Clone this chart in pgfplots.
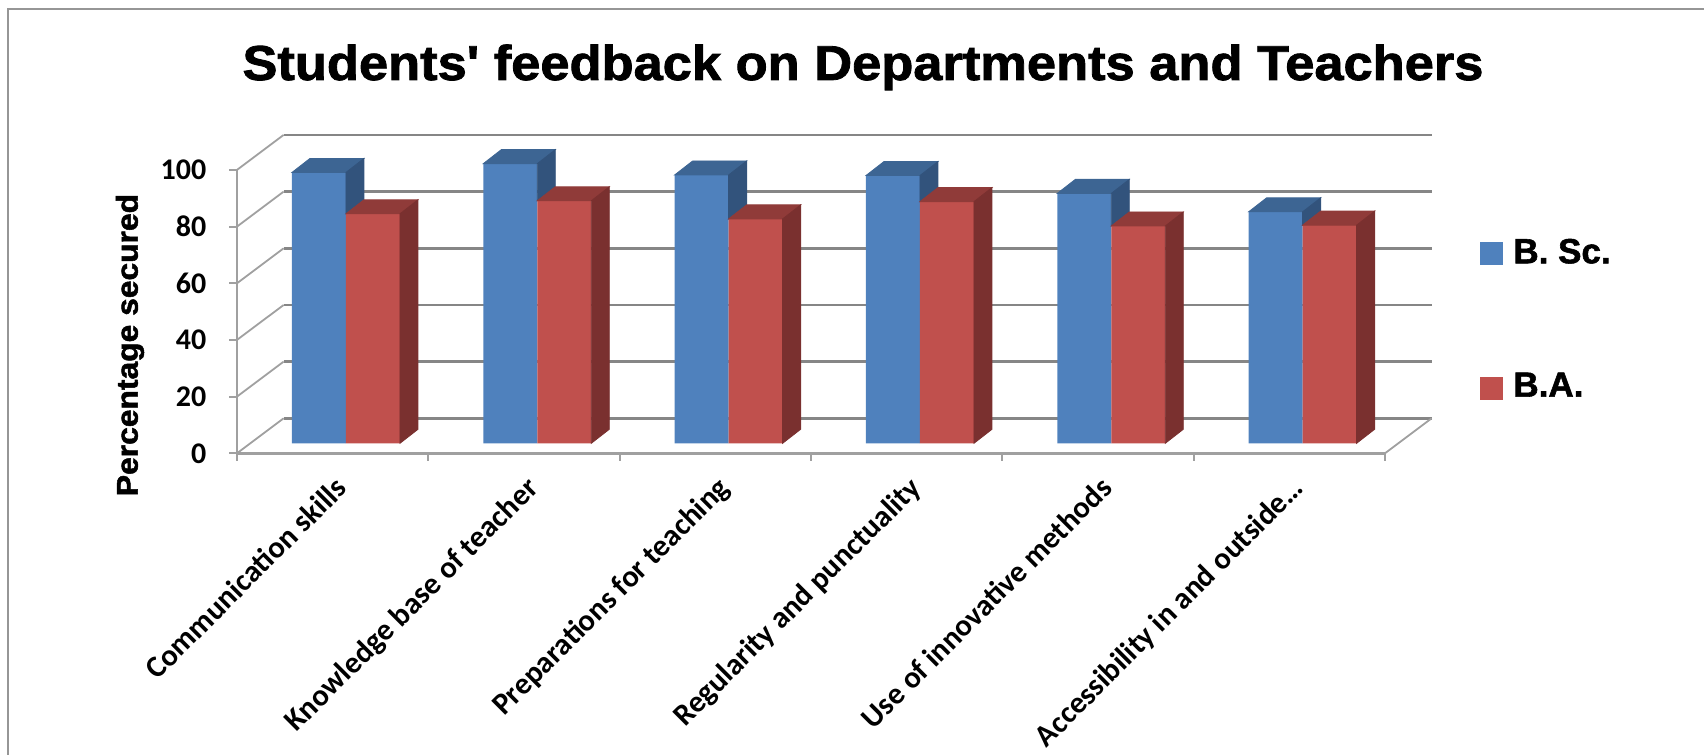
\documentclass[border=0pt]{standalone}
\usepackage{pgfplots}
\pgfplotsset{compat=1.18}
\usepackage{pgfplotstable}
\usepackage{graphicx}
\usepackage{fontspec}
\setmainfont{Carlito}
\newfontfamily\arialf{Liberation Sans Bold}[FakeBold=1.6]

\definecolor{bscfront}{RGB}{79,129,189}
\definecolor{bsctop}{RGB}{61,101,147}
\definecolor{bscside}{RGB}{50,83,124}
\definecolor{bafront}{RGB}{192,80,77}
\definecolor{batop}{RGB}{144,59,57}
\definecolor{baside}{RGB}{122,48,47}
\definecolor{gridc}{RGB}{134,134,134}
\definecolor{wallc}{RGB}{160,160,160}
\definecolor{framec}{RGB}{150,150,150}

\pgfdeclareplotmark{nothing}{}

\pgfplotstableread{
x bsc ba
0 95.6 81.0
1 98.7 85.6
2 94.7 79.2
3 94.5 85.3
4 88.2 76.7
5 81.7 77.0
}\feedback

\begin{document}
\begin{tikzpicture}
\useasboundingbox (0,0) rectangle (852pt,377.5pt);
\draw[framec, line width=1pt] (4pt,-20pt) -- (4pt,373pt) -- (880pt,373pt);
\node[anchor=base, font=\arialf\fontsize{24.5}{29}\selectfont] at (431.5pt,337.5pt) {\scalebox{1.07}[1]{Students' feedback on Departments and Teachers}};
\node[rotate=90, font=\arialf\fontsize{15}{18}\selectfont] at (65pt,205pt) {\scalebox{1.06}[1]{Percentage secured}};
% legend
\fill[bscfront] (740pt,245pt) rectangle (751.5pt,256.5pt);
\node[anchor=base west, inner sep=0pt, font=\arialf\fontsize{17.5}{21}\selectfont] at (756.5pt,245.85pt) {B. Sc.};
\fill[bafront] (740pt,177.65pt) rectangle (751.5pt,189.15pt);
\node[anchor=base west, inner sep=0pt, font=\arialf\fontsize{17.5}{21}\selectfont] at (756.5pt,179.15pt) {B.A.};
\begin{axis}[
  at={(125.15pt,155.85pt)}, anchor=south west,
  scale only axis, width=574pt, height=141.67pt,
  xmin=-0.5, xmax=5.5, ymin=0, ymax=100,
  clip=false,
  axis line style={draw=none},
  major tick length=0pt,
  ytick={0,20,...,100},
  xtick={0,...,5},
  xticklabels={Communication skills, Knowledge base of teacher, Preparations for teaching, Regularity and punctuality, Use of innovative methods, Accessibility in and outside…},
  /pgf/number format/assume math mode=true,
  yticklabel style={font=\bfseries\fontsize{15}{18}\selectfont, inner sep=0pt, anchor=east, xshift=-21.8pt, yshift=-5pt},
  xticklabel style={font=\bfseries\fontsize{15.3}{18}\selectfont, inner sep=0pt, xshift=-6.4pt, yshift=-15.5pt, rotate=45, anchor=north east},
]
% back wall, left wall, floor
\pgfplotsinvokeforeach{0,20,40,60,80,100}{
  \draw[gridc, line width=1.4pt] ([xshift=16.67pt,yshift=12.5pt]axis cs:-0.5,#1) -- ([xshift=16.67pt,yshift=12.5pt]axis cs:5.5,#1);
  \draw[wallc, line width=0.9pt] ([xshift=-6.67pt,yshift=-5pt]axis cs:-0.5,#1) -- ([xshift=16.67pt,yshift=12.5pt]axis cs:-0.5,#1);
  \draw[wallc, line width=0.9pt] ([xshift=-6.67pt,yshift=-5pt]axis cs:-0.5,#1) -- ++(-4pt,0pt);
}
\draw[wallc, line width=1pt] ([xshift=-6.67pt,yshift=-5pt]axis cs:-0.5,0) -- ([xshift=-6.67pt,yshift=-5pt]axis cs:-0.5,100);
\draw[wallc, line width=1.6pt] ([xshift=-6.67pt,yshift=-5pt]axis cs:-0.5,0) -- ([xshift=-6.67pt,yshift=-5pt]axis cs:5.5,0);
\draw[wallc, line width=0.9pt] ([xshift=-6.67pt,yshift=-5pt]axis cs:5.5,0) -- ([xshift=16.67pt,yshift=12.5pt]axis cs:5.5,0);
\pgfplotsinvokeforeach{-0.5,0.5,1.5,2.5,3.5,4.5,5.5}{
  \draw[wallc, line width=0.9pt] ([xshift=-6.67pt,yshift=-5pt]axis cs:#1,0) -- ++(0pt,-4pt);
}

% B.Sc. front faces
\addplot[ybar, bar width=27pt, bar shift=-13.5pt, fill=bscfront, draw=none]
  table[x=x, y=bsc] {\feedback};
% B.A. front faces
\addplot[ybar, bar width=27pt, bar shift=13.5pt, fill=bafront, draw=none]
  table[x=x, y=ba] {\feedback};
% B.Sc. depth faces (side face visible only above the B.A. bar)
\addplot[only marks, mark=nothing, scatter,
  visualization depends on={rawy \as \barval},
  visualization depends on={\thisrow{ba} \as \baval},
  scatter/@pre marker code/.code={%
    \pgfmathsetmacro\dd{(\barval-\baval)*1.4167}%
    \fill[bsctop] (-27pt,0pt) -- (0pt,0pt) -- (9pt,7pt) -- (-18pt,7pt) -- cycle;
    \fill[bscside] (0pt,0pt) -- (9pt,7pt) -- (9pt,7pt-\dd pt) -- (0pt,-\dd pt) -- cycle;
  },
  scatter/@post marker code/.code={}]
  table[x=x, y=bsc] {\feedback};
% B.A. depth faces
\addplot[only marks, mark=nothing, scatter,
  visualization depends on={rawy \as \barval},
  scatter/@pre marker code/.code={%
    \pgfmathsetmacro\hh{\barval*1.4167}%
    \fill[batop] (0pt,0pt) -- (27pt,0pt) -- (36pt,7pt) -- (9pt,7pt) -- cycle;
    \fill[baside] (27pt,0pt) -- (36pt,7pt) -- (36pt,7pt-\hh pt) -- (27pt,-\hh pt) -- cycle;
  },
  scatter/@post marker code/.code={}]
  table[x=x, y=ba] {\feedback};
\end{axis}
\end{tikzpicture}
\end{document}
